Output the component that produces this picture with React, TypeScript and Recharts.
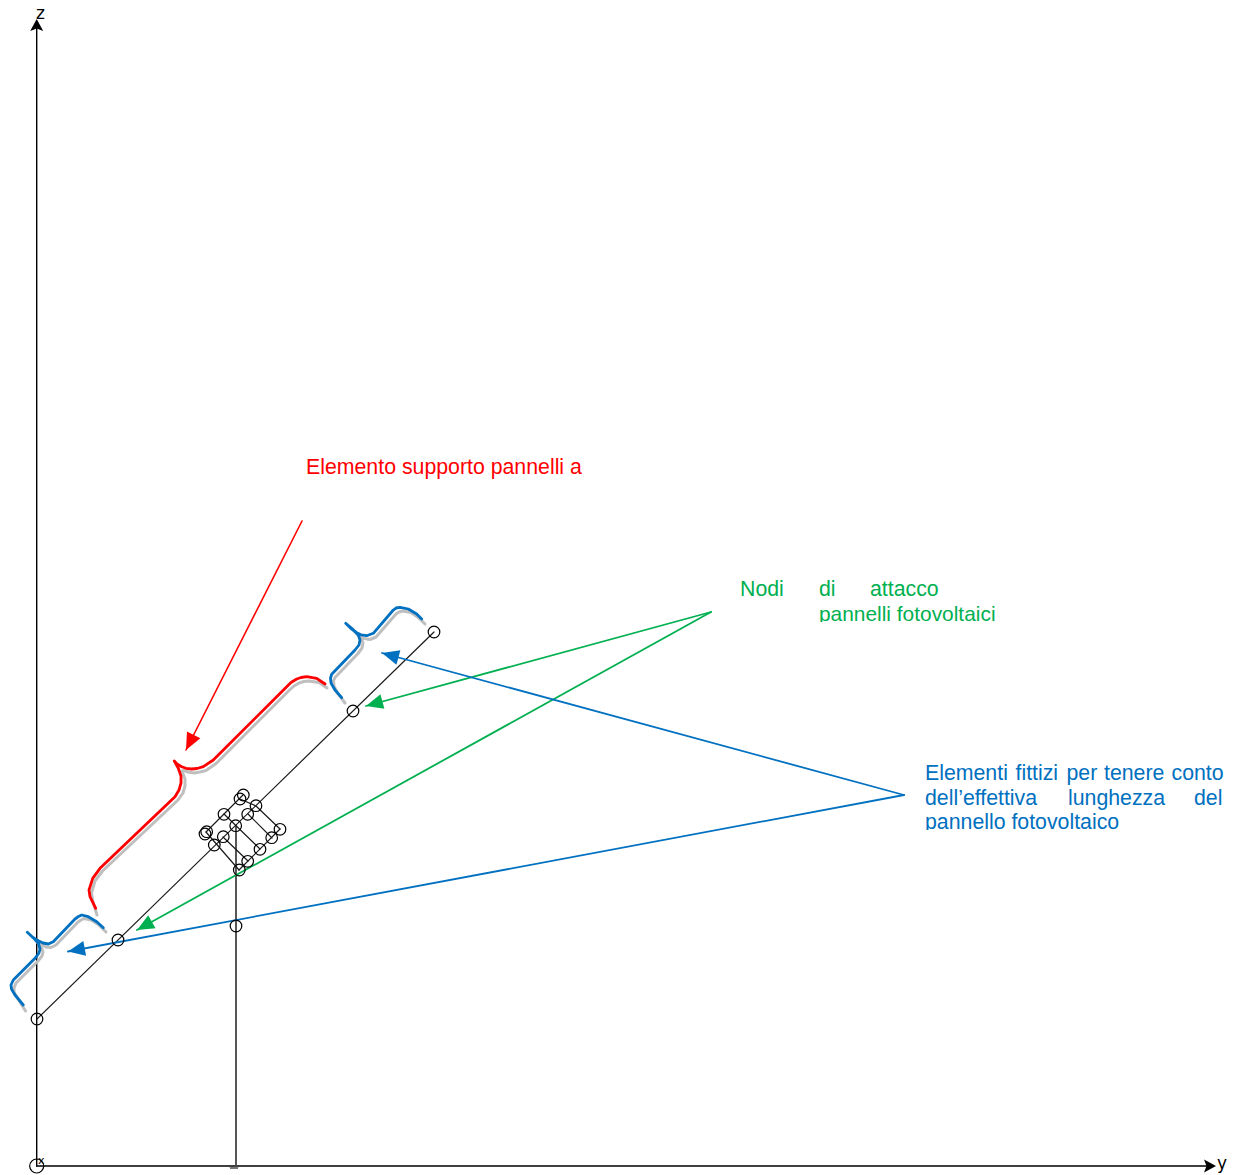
import React from 'react';
import { ComposedChart, Line, Scatter, XAxis, YAxis } from 'recharts';

const RED = '#ff0000';
const GREEN = '#00b050';
const BLUE = '#0070c0';
const GREY = '#bfbfbf';
const DARK = '#1a1a1a';

type Pt = { x: number; y: number };
type Word = Pt & { text: string };

// structure
const zAxisLine: Pt[] = [{ x: 36.7, y: 1166 }, { x: 36.7, y: 24 }];
const yAxisLine: Pt[] = [{ x: 36.7, y: 1166 }, { x: 1208, y: 1166 }];
const column: Pt[] = [{ x: 236, y: 826 }, { x: 236, y: 1166 }];
const mainBeam: Pt[] = [{ x: 37, y: 1019 }, { x: 434, y: 632 }];
const upperEdge: Pt[] = [{ x: 206, y: 832 }, { x: 243, y: 795 }];
const lowerEdge: Pt[] = [{ x: 239, y: 870 }, { x: 280, y: 829 }];
const cross1: Pt[] = [{ x: 206, y: 832 }, { x: 239, y: 870 }];
const cross2: Pt[] = [{ x: 224, y: 814 }, { x: 260, y: 849 }];
const cross3: Pt[] = [{ x: 240, y: 799 }, { x: 256, y: 806 }, { x: 280, y: 829 }];
const cross4: Pt[] = [{ x: 248, y: 814 }, { x: 272, y: 838 }];
const cross5: Pt[] = [{ x: 223, y: 837 }, { x: 248, y: 861 }];
const supportMark: Pt[] = [
  { x: 230, y: 1167 }, { x: 231, y: 1169 }, { x: 232, y: 1167 }, { x: 233, y: 1169 },
  { x: 234, y: 1167 }, { x: 235, y: 1169 }, { x: 236, y: 1167 }, { x: 237, y: 1169 }, { x: 238, y: 1167 },
];

const nodes: Pt[] = [
  { x: 243.3, y: 795 }, { x: 240, y: 799 }, { x: 256, y: 805.7 }, { x: 224, y: 814.3 },
  { x: 247.7, y: 814.3 }, { x: 235.7, y: 825.7 }, { x: 280, y: 829.3 }, { x: 205, y: 834 },
  { x: 206.7, y: 831.7 }, { x: 223.3, y: 836.7 }, { x: 271.7, y: 837.7 }, { x: 214.3, y: 845 },
  { x: 260, y: 849.3 }, { x: 247.7, y: 861.3 }, { x: 239.3, y: 870 }, { x: 236, y: 926 },
  { x: 118, y: 940 }, { x: 37, y: 1019 }, { x: 353, y: 711 }, { x: 434, y: 632 },
];
const originNode: Pt[] = [{ x: 36.7, y: 1166 }];

// braces
const blueBraceLow: Pt[] = [
  { x: 23.3, y: 1005 }, { x: 15, y: 995 }, { x: 11.5, y: 989 }, { x: 11, y: 985 }, { x: 13.3, y: 980 },
  { x: 35, y: 958.3 }, { x: 39, y: 953 }, { x: 40, y: 949 }, { x: 38.3, y: 943 }, { x: 34, y: 938.5 }, { x: 27.3, y: 932.3 },
  { x: 33, y: 937.5 }, { x: 38.3, y: 940.7 }, { x: 43, y: 943 }, { x: 48.3, y: 944 }, { x: 53.3, y: 941.7 },
  { x: 75, y: 919 }, { x: 78.5, y: 916.5 }, { x: 81.7, y: 915 }, { x: 88.3, y: 916.7 }, { x: 96.7, y: 921.7 }, { x: 103.3, y: 927.7 },
];
const greyBraceLow: Pt[] = [
  { x: 25.5, y: 1011 }, { x: 17.5, y: 998 }, { x: 14, y: 992 }, { x: 14, y: 988 }, { x: 16, y: 983 },
  { x: 38, y: 961 }, { x: 42, y: 956 }, { x: 43, y: 952 }, { x: 41, y: 946 }, { x: 36, y: 941 },
  { x: 41, y: 944 }, { x: 46, y: 947 }, { x: 51, y: 947.5 }, { x: 56, y: 945 },
  { x: 78, y: 922 }, { x: 81, y: 920 }, { x: 84, y: 918.5 }, { x: 91, y: 920 }, { x: 99, y: 925 }, { x: 106, y: 932 },
];
const redBrace: Pt[] = [
  { x: 95.7, y: 908.3 }, { x: 90, y: 896.7 }, { x: 89, y: 890 }, { x: 92.7, y: 878.3 }, { x: 100, y: 868.3 },
  { x: 175, y: 796.7 }, { x: 179, y: 790 }, { x: 181, y: 783 }, { x: 181, y: 776 }, { x: 178.3, y: 768.3 }, { x: 174.3, y: 761 },
  { x: 177, y: 764 }, { x: 181.7, y: 766.7 }, { x: 186, y: 768.3 }, { x: 191.7, y: 769 }, { x: 197, y: 768.5 }, { x: 203.3, y: 766.7 }, { x: 213.3, y: 760 },
  { x: 286.7, y: 686.7 }, { x: 291, y: 682.5 }, { x: 296.7, y: 679 }, { x: 301, y: 677.5 }, { x: 306.7, y: 676.7 }, { x: 316.7, y: 678.3 }, { x: 325, y: 684 },
];
const greyBraceMid: Pt[] = [
  { x: 97, y: 915 }, { x: 92.5, y: 900 }, { x: 91.5, y: 893 }, { x: 95, y: 881 }, { x: 102.5, y: 871 },
  { x: 178, y: 800 }, { x: 183, y: 793 }, { x: 185, y: 786 }, { x: 185, y: 779 }, { x: 182, y: 771 },
  { x: 184, y: 770.5 }, { x: 188, y: 772 }, { x: 194, y: 773 }, { x: 200, y: 772 }, { x: 206, y: 770.5 }, { x: 216, y: 763.5 },
  { x: 289.5, y: 690 }, { x: 294, y: 686 }, { x: 299, y: 683 }, { x: 304, y: 681.5 }, { x: 309, y: 681 }, { x: 319, y: 682.5 }, { x: 327, y: 688 },
];
const blueBraceHigh: Pt[] = [
  { x: 341.7, y: 697.7 }, { x: 335, y: 690 }, { x: 331, y: 683 }, { x: 330.5, y: 678 }, { x: 331.7, y: 674.3 },
  { x: 355, y: 650 }, { x: 359, y: 645 }, { x: 360, y: 640 }, { x: 358.3, y: 635 }, { x: 352, y: 628.5 }, { x: 345.7, y: 623.3 },
  { x: 351, y: 628.5 }, { x: 356.7, y: 632.7 }, { x: 361, y: 634.8 }, { x: 366.7, y: 635.7 }, { x: 373.3, y: 633.3 },
  { x: 393.3, y: 610 }, { x: 396, y: 608 }, { x: 400, y: 607.3 }, { x: 408.3, y: 609 }, { x: 416.7, y: 614 }, { x: 421.7, y: 619 },
];
const greyBraceHigh: Pt[] = [
  { x: 345, y: 703 }, { x: 337.5, y: 693 }, { x: 334, y: 686 }, { x: 333.5, y: 681 }, { x: 335, y: 677.5 },
  { x: 358, y: 653.5 }, { x: 362, y: 648 }, { x: 363, y: 643 }, { x: 361, y: 638 }, { x: 354, y: 631 },
  { x: 359, y: 636 }, { x: 364, y: 638.5 }, { x: 370, y: 639.5 }, { x: 376, y: 637 },
  { x: 396, y: 614 }, { x: 399, y: 612 }, { x: 403, y: 611 }, { x: 411, y: 612.5 }, { x: 419, y: 618 }, { x: 425, y: 624 },
];

// leaders: tail first, tip last
const redLeader: Pt[] = [{ x: 302, y: 521 }, { x: 186, y: 750 }];
const greenLeaderA: Pt[] = [{ x: 711, y: 612 }, { x: 366, y: 706 }];
const greenLeaderB: Pt[] = [{ x: 711, y: 612 }, { x: 137, y: 930 }];
const blueLeaderA: Pt[] = [{ x: 904, y: 795 }, { x: 382, y: 653 }];
const blueLeaderB: Pt[] = [{ x: 904, y: 795 }, { x: 68, y: 951.5 }];

// labels
const redWords: Word[] = [{ x: 306, y: 474, text: 'Elemento supporto pannelli a' }];
const greenWords: Word[] = [
  { x: 740, y: 596, text: 'Nodi' },
  { x: 819, y: 596, text: 'di' },
  { x: 870, y: 596, text: 'attacco' },
];
const greenCutWords: Word[] = [{ x: 819, y: 621, text: 'pannelli fotovoltaici' }];
const blueWords: Word[] = [
  { x: 925, y: 780, text: 'Elementi' },
  { x: 1015.5, y: 780, text: 'fittizi' },
  { x: 1066.5, y: 780, text: 'per' },
  { x: 1104, y: 780, text: 'tenere' },
  { x: 1171.5, y: 780, text: 'conto' },
  { x: 925, y: 805, text: 'dell’effettiva' },
  { x: 1068, y: 805, text: 'lunghezza' },
  { x: 1194, y: 805, text: 'del' },
];
const blueCutWords: Word[] = [{ x: 925, y: 829, text: 'pannello fotovoltaico' }];
const axisNames: Word[] = [
  { x: 36, y: 19, text: 'z' },
  { x: 1217, y: 1169, text: 'y' },
];
const originName: Word[] = [{ x: 38, y: 1164, text: 'x' }];

const axisTipZ: Pt[] = [{ x: 36.7, y: 19 }];
const axisTipY: Pt[] = [{ x: 1216, y: 1166 }];

const FONT = '"Liberation Sans", Arial, sans-serif';

const stroke = (data: Pt[], color: string, width: number, name: string) => (
  <Line
    key={name}
    data={data}
    dataKey="y"
    name={name}
    type="linear"
    stroke={color}
    strokeWidth={width}
    strokeLinejoin="round"
    strokeLinecap="round"
    dot={false}
    activeDot={false}
    legendType="none"
    isAnimationActive={false}
  />
);

const circle = (r: number) => (p: any) => <circle cx={p.cx} cy={p.cy} r={r} fill="none" stroke="#000" strokeWidth={1.2} />;

// triangle pointing from tail to tip, tip sits on the point
const head = (tail: Pt, color: string, len = 17, half = 7.5) => (p: any) => {
  const a = (Math.atan2(p.payload.y - tail.y, p.payload.x - tail.x) * 180) / Math.PI;
  return (
    <polygon
      points={`0,0 ${-len},${-half} ${-len},${half}`}
      fill={color}
      transform={`translate(${p.cx},${p.cy}) rotate(${a})`}
    />
  );
};

const axisHead = (angle: number) => (p: any) => (
  <polygon
    points="0,0 -12,-6.5 -9.5,0 -12,6.5"
    fill="#000"
    transform={`translate(${p.cx},${p.cy}) rotate(${angle})`}
  />
);

const word = (color: string, size: number, family: string, cut: boolean) => (p: any) => {
  const id = `cut-${Math.round(p.cx)}-${Math.round(p.cy)}`;
  return (
    <g>
      {cut && (
        <clipPath id={id}>
          <rect x={p.cx - 4} y={p.cy - 24} width={320} height={25} />
        </clipPath>
      )}
      <text
        x={p.cx}
        y={p.cy}
        fill={color}
        fontSize={size}
        fontFamily={family}
        clipPath={cut ? `url(#${id})` : undefined}
      >
        {p.payload.text}
      </text>
    </g>
  );
};

const dots = (data: Pt[], shape: any, name: string) => (
  <Scatter key={name} data={data} dataKey="y" name={name} shape={shape} legendType="none" isAnimationActive={false} />
);

export default function App() {
  return (
    <div style={{ position: 'absolute', left: 0, top: 0, width: 1240, height: 1175, background: '#fff' }}>
      <ComposedChart width={1240} height={1175} margin={{ top: 0, right: 0, bottom: 0, left: 0 }}>
        <XAxis type="number" dataKey="x" domain={[0, 1240]} hide />
        <YAxis type="number" dataKey="y" domain={[0, 1175]} reversed hide />

        {stroke(zAxisLine, '#000', 1.4, 'zAxis')}
        {stroke(yAxisLine, '#000', 1.4, 'yAxis')}
        {stroke(column, '#444', 1.8, 'column')}
        {stroke(mainBeam, DARK, 1.2, 'beam')}
        {stroke(upperEdge, DARK, 1.2, 'upperEdge')}
        {stroke(lowerEdge, DARK, 1.2, 'lowerEdge')}
        {stroke(cross1, DARK, 1.2, 'cross1')}
        {stroke(cross2, DARK, 1.2, 'cross2')}
        {stroke(cross3, DARK, 1.2, 'cross3')}
        {stroke(cross4, DARK, 1.2, 'cross4')}
        {stroke(cross5, DARK, 1.2, 'cross5')}
        {stroke(supportMark, '#333', 0.8, 'support')}

        {stroke(greyBraceLow, GREY, 3, 'greyLow')}
        {stroke(greyBraceMid, GREY, 3, 'greyMid')}
        {stroke(greyBraceHigh, GREY, 3, 'greyHigh')}
        {stroke(blueBraceLow, BLUE, 2.8, 'blueLow')}
        {stroke(redBrace, RED, 2.8, 'red')}
        {stroke(blueBraceHigh, BLUE, 2.8, 'blueHigh')}

        {stroke(redLeader, RED, 1.6, 'redLeader')}
        {stroke(greenLeaderA, GREEN, 1.8, 'greenA')}
        {stroke(greenLeaderB, GREEN, 1.8, 'greenB')}
        {stroke(blueLeaderA, BLUE, 1.8, 'blueA')}
        {stroke(blueLeaderB, BLUE, 1.8, 'blueB')}

        {dots(nodes, circle(5.8), 'nodes')}
        {dots(originNode, circle(7), 'origin')}

        {dots([redLeader[1]], head(redLeader[0], RED), 'redHead')}
        {dots([greenLeaderA[1]], head(greenLeaderA[0], GREEN), 'greenHeadA')}
        {dots([greenLeaderB[1]], head(greenLeaderB[0], GREEN), 'greenHeadB')}
        {dots([blueLeaderA[1]], head(blueLeaderA[0], BLUE), 'blueHeadA')}
        {dots([blueLeaderB[1]], head(blueLeaderB[0], BLUE), 'blueHeadB')}
        {dots(axisTipZ, axisHead(-90), 'tipZ')}
        {dots(axisTipY, axisHead(0), 'tipY')}

        {dots(redWords, word(RED, 21.3, FONT, false), 'redWords')}
        {dots(greenWords, word(GREEN, 21.3, FONT, false), 'greenWords')}
        {dots(greenCutWords, word(GREEN, 20.9, FONT, true), 'greenCut')}
        {dots(blueWords, word(BLUE, 21.3, FONT, false), 'blueWords')}
        {dots(blueCutWords, word(BLUE, 21.3, FONT, true), 'blueCut')}
        {dots(axisNames, word('#000', 17, '"DejaVu Sans", sans-serif', false), 'axisNames')}
        {dots(originName, word('#000', 11, '"DejaVu Sans", sans-serif', false), 'originName')}
      </ComposedChart>
    </div>
  );
}
